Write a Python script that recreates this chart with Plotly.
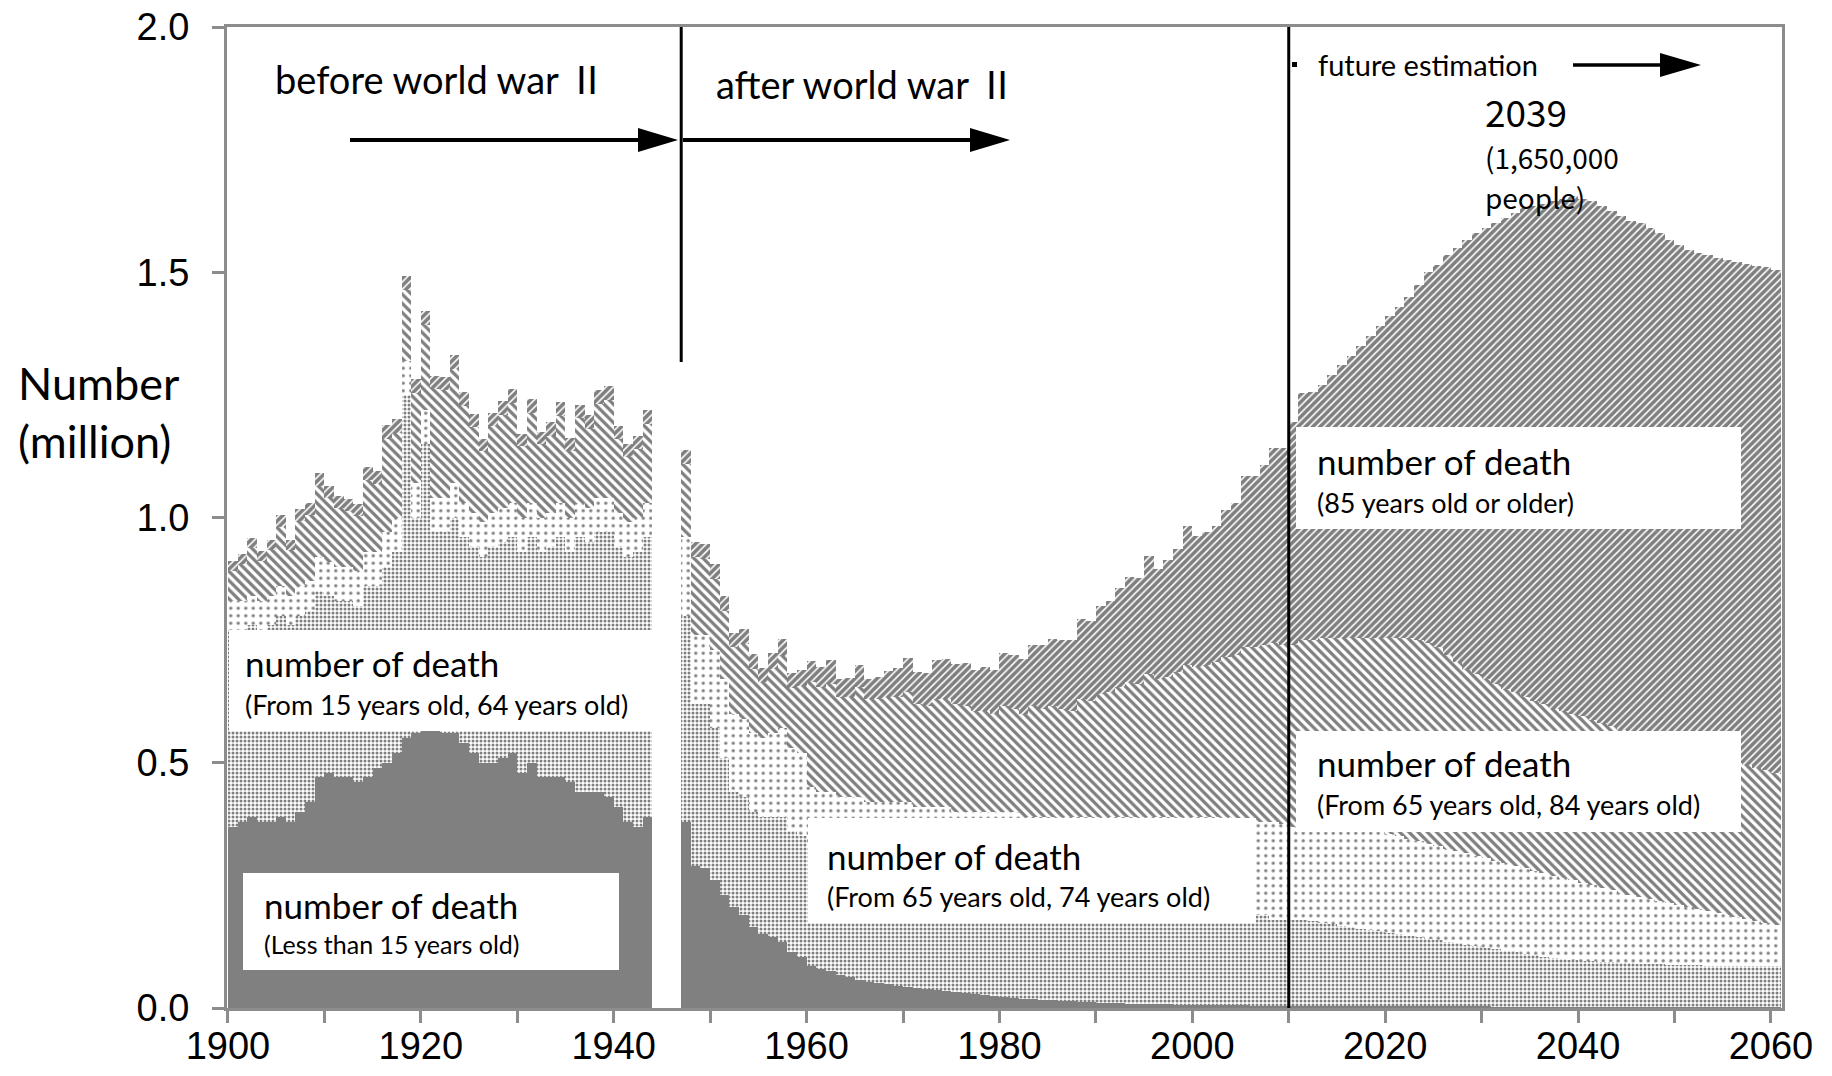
import plotly.graph_objects as go

# ---------------- data (deaths, millions) ----------------
years_pre = list(range(1900, 1944))
years_post = list(range(1947, 2061))
years = years_pre + years_post

under15_pre = [0.37, 0.38, 0.39, 0.38, 0.38, 0.39, 0.38, 0.40, 0.42, 0.47,
               0.48, 0.47, 0.47, 0.46, 0.47, 0.49, 0.50, 0.52, 0.55, 0.56,
               0.57, 0.57, 0.56, 0.56, 0.54, 0.52, 0.50, 0.50, 0.51, 0.52,
               0.48, 0.50, 0.47, 0.47, 0.47, 0.46, 0.44, 0.44, 0.44, 0.43,
               0.41, 0.38, 0.37, 0.39]
age15_64_pre = [0.40, 0.39, 0.39, 0.39, 0.40, 0.41, 0.40, 0.40, 0.39, 0.38,
                0.36, 0.36, 0.36, 0.36, 0.39, 0.37, 0.40, 0.41, 0.70, 0.44,
                0.58, 0.40, 0.41, 0.44, 0.42, 0.42, 0.42, 0.44, 0.44, 0.44,
                0.45, 0.46, 0.46, 0.47, 0.49, 0.47, 0.52, 0.51, 0.53, 0.54,
                0.53, 0.54, 0.56, 0.57]
age65_74_pre = [0.06] * 9 + [0.07] * 35
age75_84_pre = [0.061, 0.076, 0.097, 0.081, 0.093, 0.121, 0.093, 0.133, 0.135, 0.145,
                0.129, 0.120, 0.113, 0.113, 0.146, 0.138, 0.190, 0.172, 0.143, 0.184,
                0.172, 0.221, 0.219, 0.233, 0.197, 0.174, 0.145, 0.177, 0.189, 0.203,
                0.145, 0.183, 0.149, 0.157, 0.177, 0.136, 0.172, 0.161, 0.191, 0.200,
                0.150, 0.134, 0.140, 0.161]
age85_pre = [0.020, 0.020, 0.022, 0.020, 0.022, 0.024, 0.022, 0.024, 0.024, 0.026,
             0.025, 0.024, 0.024, 0.024, 0.026, 0.026, 0.028, 0.028, 0.030, 0.028,
             0.030, 0.028, 0.028, 0.029, 0.028, 0.027, 0.026, 0.027, 0.028, 0.028,
             0.026, 0.028, 0.026, 0.027, 0.028, 0.026, 0.028, 0.027, 0.029, 0.029,
             0.027, 0.026, 0.027, 0.028]

under15_post = [0.38, 0.29, 0.285, 0.26, 0.23, 0.205, 0.19, 0.165, 0.15, 0.145,
                0.135, 0.115, 0.105, 0.085, 0.08, 0.075, 0.068, 0.063, 0.058, 0.054,
                0.051, 0.048, 0.045, 0.042, 0.04, 0.038, 0.036, 0.034, 0.032, 0.03,
                0.028, 0.026, 0.024, 0.022, 0.021, 0.019, 0.018, 0.017, 0.016, 0.015,
                0.014, 0.013, 0.012, 0.011, 0.01, 0.01, 0.009, 0.009, 0.009, 0.008,
                0.008, 0.007, 0.007, 0.007, 0.006, 0.006, 0.006, 0.006, 0.006, 0.005,
                0.005, 0.005, 0.005, 0.005, 0.005] + [0.004] * 19 + [0.003] * 30
age15_64_post = [0.42, 0.33, 0.335, 0.31, 0.28, 0.235, 0.24, 0.235, 0.24, 0.245,
                 0.255, 0.245, 0.245, 0.245, 0.24, 0.245, 0.232, 0.237, 0.242, 0.236,
                 0.239, 0.242, 0.235, 0.238, 0.23, 0.232, 0.234, 0.226, 0.228, 0.22,
                 0.222, 0.214, 0.216, 0.218, 0.209, 0.211, 0.212, 0.213, 0.204, 0.205,
                 0.206, 0.207, 0.208, 0.209, 0.21, 0.21, 0.211, 0.211, 0.211, 0.202,
                 0.202, 0.203, 0.203, 0.193, 0.194, 0.194, 0.194, 0.184, 0.184, 0.185,
                 0.185, 0.175, 0.175, 0.175, 0.175, 0.173, 0.17, 0.167, 0.164, 0.161,
                 0.158, 0.155, 0.152, 0.149, 0.146, 0.143, 0.14, 0.137, 0.134, 0.131,
                 0.128, 0.125, 0.122, 0.119, 0.117, 0.114, 0.111, 0.108, 0.105, 0.102,
                 0.099, 0.097, 0.095, 0.093, 0.092, 0.091, 0.09, 0.089, 0.088, 0.087,
                 0.086, 0.086, 0.085, 0.085, 0.084, 0.084, 0.083, 0.083, 0.083, 0.082,
                 0.082, 0.082, 0.082, 0.082]
age65_74_post = [0.16, 0.14, 0.14, 0.16, 0.16, 0.16, 0.16, 0.16, 0.16, 0.17,
                 0.18, 0.17, 0.17, 0.12, 0.12, 0.12, 0.13, 0.13, 0.13, 0.13,
                 0.13, 0.13, 0.14, 0.14, 0.14, 0.14, 0.14, 0.15, 0.14, 0.15,
                 0.15, 0.16, 0.16, 0.16, 0.17, 0.16, 0.16, 0.16, 0.17, 0.17,
                 0.17, 0.17, 0.17, 0.17, 0.17, 0.17, 0.17, 0.17, 0.17, 0.18,
                 0.18, 0.18, 0.18, 0.19, 0.19, 0.19, 0.19, 0.19, 0.19, 0.19,
                 0.19, 0.20, 0.195, 0.19, 0.19, 0.191, 0.192, 0.193, 0.197, 0.20,
                 0.202, 0.203, 0.204, 0.202, 0.20, 0.198, 0.196, 0.194, 0.192, 0.19,
                 0.188, 0.186, 0.184, 0.182, 0.18, 0.178, 0.176, 0.174, 0.172, 0.17,
                 0.168, 0.165, 0.162, 0.159, 0.155, 0.151, 0.147, 0.143, 0.139, 0.136,
                 0.133, 0.129, 0.126, 0.122, 0.119, 0.115, 0.112, 0.108, 0.104, 0.101,
                 0.097, 0.093, 0.089, 0.085]
age75_84_post = [0.15, 0.16, 0.155, 0.145, 0.14, 0.137, 0.153, 0.132, 0.114, 0.132,
                 0.148, 0.122, 0.136, 0.215, 0.215, 0.22, 0.205, 0.205, 0.225, 0.21,
                 0.21, 0.215, 0.215, 0.225, 0.21, 0.205, 0.22, 0.22, 0.22, 0.215,
                 0.205, 0.205, 0.20, 0.215, 0.21, 0.21, 0.225, 0.22, 0.225, 0.22,
                 0.215, 0.24, 0.235, 0.25, 0.255, 0.265, 0.275, 0.27, 0.29, 0.28,
                 0.285, 0.295, 0.31, 0.305, 0.31, 0.315, 0.325, 0.34, 0.355, 0.355,
                 0.36, 0.365, 0.365, 0.37, 0.38, 0.382, 0.389, 0.391, 0.39, 0.39,
                 0.391, 0.393, 0.395, 0.40, 0.405, 0.41, 0.41, 0.41, 0.405, 0.395,
                 0.385, 0.375, 0.37, 0.365, 0.36, 0.355, 0.355, 0.35, 0.345, 0.345,
                 0.34, 0.34, 0.34, 0.34, 0.338, 0.336, 0.334, 0.332, 0.33, 0.328,
                 0.326, 0.324, 0.322, 0.32, 0.319, 0.318, 0.317, 0.316, 0.315, 0.314,
                 0.313, 0.312, 0.311, 0.31]
age85_post = [0.028, 0.031, 0.03, 0.03, 0.029, 0.028, 0.03, 0.029, 0.03, 0.032,
              0.034, 0.032, 0.034, 0.042, 0.041, 0.05, 0.036, 0.038, 0.045, 0.04,
              0.045, 0.052, 0.059, 0.068, 0.065, 0.069, 0.079, 0.081, 0.082, 0.088,
              0.085, 0.091, 0.09, 0.108, 0.11, 0.112, 0.125, 0.13, 0.137, 0.141,
              0.146, 0.163, 0.164, 0.18, 0.185, 0.202, 0.214, 0.216, 0.242, 0.226,
              0.238, 0.251, 0.282, 0.267, 0.27, 0.277, 0.30, 0.309, 0.349, 0.349,
              0.368, 0.397, 0.402, 0.455, 0.504, 0.506, 0.515, 0.535, 0.555, 0.575,
              0.595, 0.615, 0.635, 0.655, 0.675, 0.695, 0.725, 0.755, 0.78, 0.815,
              0.845, 0.875, 0.90, 0.92, 0.94, 0.96, 0.975, 0.995, 1.01, 1.02,
              1.035, 1.045, 1.055, 1.055, 1.057, 1.054, 1.051, 1.048, 1.045, 1.046,
              1.042, 1.038, 1.029, 1.025, 1.02, 1.02, 1.02, 1.02, 1.02, 1.02,
              1.022, 1.023, 1.025, 1.025]

under15 = under15_pre + under15_post
age15_64 = age15_64_pre + age15_64_post
age65_74 = age65_74_pre + age65_74_post
age75_84 = age75_84_pre + age75_84_post
age85_plus = age85_pre + age85_post

x_tick_vals = list(range(1900, 2061, 20))
y_tick_vals = [0.0, 0.5, 1.0, 1.5, 2.0]

# ---------------- geometry helpers (layout only) ----------------
W, H = 1832, 1076
L, R, T, B = 227, 1782, 27, 1008
X0, X1 = 1899.9, 2061.15
Y0, Y1 = 0.0, 2.0


def X(px):
    return X0 + (px - L) * (X1 - X0) / (R - L)


def Y(py):
    return Y0 + (B - py) * (Y1 - Y0) / (B - T)


def PX(px):
    return (px - L) / (R - L)


def PY(py):
    return (B - py) / (B - T)


fig = go.Figure()

series = [
    (under15, dict(color="#808080")),
    (age15_64, dict(color="white", pattern=dict(shape=".", size=4, solidity=0.45,
                                                  fgcolor="black", bgcolor="white"))),
    (age65_74, dict(color="white", pattern=dict(shape=".", size=7.5, solidity=0.16,
                                                  fgcolor="black", bgcolor="white"))),
    (age75_84, dict(color="white", pattern=dict(shape="\\", size=6.5, solidity=0.5,
                                                  fgcolor="black", bgcolor="white"))),
    (age85_plus, dict(color="white", pattern=dict(shape="/", size=5.2, solidity=0.7,
                                                    fgcolor="black", bgcolor="white"))),
]
for vals, mk in series:
    mk = dict(mk)
    mk["line"] = dict(width=0)
    fig.add_trace(go.Bar(x=years, y=vals, width=1, offset=0, marker=mk,
                         showlegend=False, hoverinfo="skip"))

shapes = []
# white label boxes
for (px0, py0, px1, py1) in [(229, 630, 652, 731), (243, 873, 619, 970),
                             (808, 818, 1256, 923), (1296, 427, 1741, 529),
                             (1296, 731, 1741, 832)]:
    shapes.append(dict(type="rect", xref="x", yref="y", x0=X(px0), x1=X(px1),
                       y0=Y(py1), y1=Y(py0), fillcolor="white", line=dict(width=0),
                       layer="above"))
# vertical separators
shapes.append(dict(type="line", xref="x", yref="y", x0=1947, x1=1947, y0=Y(362), y1=2.0,
                   line=dict(color="black", width=3), layer="above"))
shapes.append(dict(type="line", xref="x", yref="y", x0=2010, x1=2010, y0=0, y1=2.0,
                   line=dict(color="black", width=3), layer="above"))


def arrow(px0, px1, py, lw, head_len, head_h):
    out = [dict(type="line", xref="x", yref="y", x0=X(px0), x1=X(px1 - head_len + 2),
                y0=Y(py), y1=Y(py), line=dict(color="black", width=lw), layer="above")]
    path = "M {},{} L {},{} L {},{} Z".format(X(px1 - head_len), Y(py - head_h / 2),
                                               X(px1), Y(py),
                                               X(px1 - head_len), Y(py + head_h / 2))
    out.append(dict(type="path", xref="x", yref="y", path=path, fillcolor="black",
                    line=dict(width=0), layer="above"))
    return out


shapes += arrow(350, 678, 140, 4, 40, 24)
shapes += arrow(683, 1010, 140, 4, 40, 24)
shapes += arrow(1573, 1701, 65, 3.5, 41, 24)
shapes.append(dict(type="rect", xref="x", yref="y", x0=X(1292), x1=X(1297), y0=Y(67), y1=Y(62),
                   fillcolor="black", line=dict(width=0), layer="above"))

EN = "Lato, 'Noto Sans CJK JP', sans-serif"
JP = "'Noto Sans CJK JP', sans-serif"
ROMAN2 = "<span style=\"font-family:'Noto Sans CJK JP'\">Ⅱ</span>"


def txt(s, px, py, size, fam=EN, yanchor="middle"):
    return dict(text=s, xref="paper", yref="paper", x=PX(px), y=PY(py), xanchor="left",
                yanchor=yanchor, align="left", showarrow=False,
                font=dict(family=fam, size=size, color="black"))


annotations = [
    txt("before world war " + ROMAN2, 273, 77, 38),
    txt("after world war " + ROMAN2, 714, 82, 38),
    txt("future estimation", 1316, 64, 29),
    txt("2039", 1483, 111, 37, JP),
    txt("(1,650,000", 1483, 157, 28, JP),
    txt("people)", 1483, 197, 28, JP),
    txt("number of death", 243, 663, 35),
    txt("(From 15 years old, 64 years old)", 243, 704, 27),
    txt("number of death", 262, 905, 35),
    txt("(Less than 15 years old)", 262, 944, 25),
    txt("number of death", 825, 856, 35),
    txt("(From 65 years old, 74 years old)", 825, 896, 27),
    txt("number of death", 1315, 461, 35),
    txt("(85 years old or older)", 1315, 502, 27),
    txt("number of death", 1315, 763, 35),
    txt("(From 65 years old, 84 years old)", 1315, 804, 27),
    txt("Number", 16, 383, 45),
    txt("(million)", 16, 441, 45),
]

AX = "#8c8c8c"
TICKFONT = dict(family="'Liberation Sans', Arial, sans-serif", size=38, color="black")

fig.update_layout(
    width=W, height=H,
    margin=dict(l=L, r=W - R, t=T, b=H - B, pad=0, autoexpand=False),
    paper_bgcolor="white", plot_bgcolor="white",
    barmode="stack", bargap=0,
    shapes=shapes, annotations=annotations,
    xaxis=dict(range=[X0, X1], tickvals=x_tick_vals, ticktext=[str(v) for v in x_tick_vals],
               ticks="outside", ticklen=12, tickwidth=3, tickcolor=AX,
               minor=dict(dtick=10, tick0=1900, ticks="outside", ticklen=12, tickwidth=3,
                          tickcolor=AX),
               showline=True, linecolor=AX, linewidth=3, mirror=True, automargin=False,
               showgrid=False, zeroline=False, tickfont=TICKFONT, ticklabelstandoff=-10),
    yaxis=dict(range=[Y0, Y1], tickvals=y_tick_vals, tickformat=".1f",
               ticks="outside", ticklen=12, tickwidth=3, tickcolor=AX,
               showline=True, linecolor=AX, linewidth=3, mirror=True, automargin=False,
               showgrid=False, zeroline=False, tickfont=TICKFONT, ticklabelstandoff=15),
)

fig.write_html("out.html", config={"displayModeBar": False},
               post_script="document.body.style.margin='0';")
